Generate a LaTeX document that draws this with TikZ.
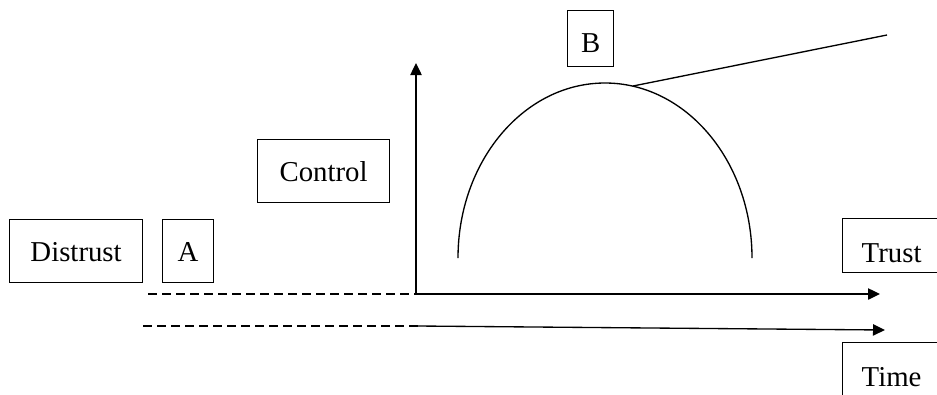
\documentclass[tikz,border=0pt]{standalone}
\usepackage{fontspec}
\setmainfont{Liberation Serif}
\usetikzlibrary{arrows.meta}
\begin{document}
\begin{tikzpicture}[x=0.75pt,y=-0.75pt,
  line width=1pt,
  box/.style={draw, line width=0.9pt, inner xsep=0pt, inner ysep=0pt, anchor=south west,
    font=\fontsize{21.6}{26}\selectfont},
  arr/.style={-{Triangle[length=9pt,width=8.5pt]}},
  dsh/.style={dash pattern=on 6.75pt off 3.75pt}]
\clip (0,0) rectangle (937,394);
\fill[white] (0,0) rectangle (937,394);
% boxes
\node[box, minimum width=99.75pt, text height=31.5pt, text depth=15.75pt] (distrust) at (9,283) {Distrust};
\node[box, minimum width=38.25pt, text height=31.5pt, text depth=15.75pt] (A) at (162,283) {A};
\node[box, minimum width=99pt, text height=31.5pt, text depth=15.75pt] (control) at (257,203) {Control};
\node[box, minimum width=34.5pt, text height=31.5pt, text depth=10.5pt] (B) at (567,67) {B};
\node[box, minimum width=73.5pt, text height=33pt, text depth=7.5pt] (trust) at (842,273) {Trust};
\node[box, minimum width=73.5pt, text height=33pt, text depth=14.25pt] (time) at (842,406) {Time};
% axes
\coordinate (O) at (416,294);
\coordinate (ytip) at (416,63);
\coordinate (xtip) at (880,294);
\coordinate (d1) at (148,294);
\coordinate (d2s) at (143,326);
\coordinate (d2m) at (418,326);
\coordinate (ttip) at (885,330);
\draw[arr] (O) -- (ytip);
\draw[arr] (O) -- (xtip);
\draw[dsh] (d1) -- (O);
\draw[dsh] (d2s) -- (d2m);
\draw[arr] (d2m) -- (ttip);
% arc
\coordinate (arcL) at (458,258);
\draw (arcL) arc[start angle=180, end angle=360, x radius=147, y radius=175];
\coordinate (bc) at (633,86);
\coordinate (bend) at (887,35);
\draw (bc) -- (bend);
\end{tikzpicture}
\end{document}
